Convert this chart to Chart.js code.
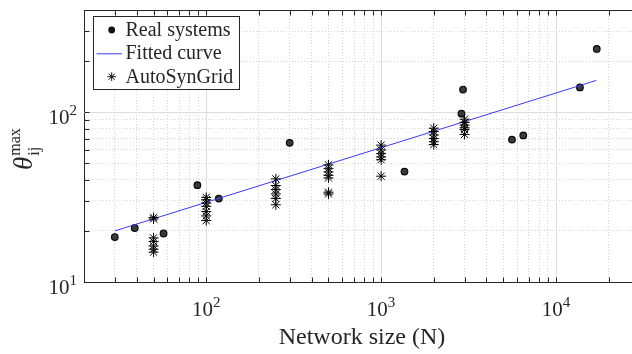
<!DOCTYPE html>
<html><head><meta charset="utf-8">
<script src="https://cdn.jsdelivr.net/npm/chart.js@4/dist/chart.umd.min.js"></script>
<style>html,body{margin:0;padding:0;background:#fff;}#wrap{width:632px;height:354px;}</style>
</head><body><div id="wrap"><canvas id="c" width="632" height="354"></canvas></div>
<script>
// Real systems
const realN     = [30, 39, 57, 89, 118, 300, 1360, 2880, 2940, 5600, 6500, 13700, 17100];
const realTheta = [18.4, 20.8, 19.3, 37.2, 31.0, 66.0, 44.7, 98.0, 136.0, 69.0, 73.0, 140.0, 236.0];
// Fitted curve (straight line on log-log axes, endpoints)
const fitN     = [30, 17000];
const fitTheta = [20.0, 154.0];
// AutoSynGrid
const synN = [50,50,50,50,50,50,50,
              100,100,100,100,100,100,100,
              250,250,250,250,250,250,
              500,500,500,500,500,500,500,
              1000,1000,1000,1000,1000,1000,
              2000,2000,2000,2000,2000,2000,
              3000,3000,3000,3000,3000,3000];
const synTheta = [24.0,23.5,18.2,17.3,16.3,15.6,15.0,
                  31.5,30.5,29.2,27.9,26.0,24.5,23.0,
                  40.5,37.0,35.0,33.0,31.0,28.5,
                  49.0,46.5,44.5,42.5,41.0,33.8,33.0,
                  64.0,60.0,57.0,54.5,52.5,42.0,
                  80.5,77.0,73.5,70.0,67.0,64.5,
                  91.0,87.0,84.0,81.0,79.0,74.0];
// Axes
const xTicks = [20,30,40,50,60,70,80,90,100,200,300,400,500,600,700,800,900,
                1000,2000,3000,4000,5000,6000,7000,8000,9000,10000,20000];
const yTicks = [10,20,30,40,50,60,70,80,90,100,200,300,400];
const xMajor = [100, 1000, 10000];
const yMajor = [10, 100];
const xMin = 20, xMax = 27200, yMin = 10, yMax = 400;
const xTitle = 'Network size (N)';
const legendLabels = ['Real systems', 'Fitted curve', 'AutoSynGrid'];

const FONT = '"Liberation Serif", "Times New Roman", serif';
const AX = '#262626';
const BLUE = '#3a3aff';

function pts(xs, ys){ return xs.map((v,i)=>({x:v, y:ys[i]})); }
const isMajorX = v => xMajor.includes(v);
const isMajorY = v => yMajor.includes(v);

function powLabel(ctx, exp, px, base, align){
  ctx.font = '21px ' + FONT; const w1 = ctx.measureText('10').width;
  ctx.font = '15px ' + FONT; const w2 = ctx.measureText(String(exp)).width;
  const x0 = align === 'center' ? px - (w1 + w2) / 2 : px - (w1 + w2);
  ctx.textAlign = 'left'; ctx.textBaseline = 'alphabetic';
  ctx.font = '21px ' + FONT; ctx.fillText('10', x0, base);
  ctx.font = '15px ' + FONT; ctx.fillText(String(exp), x0 + w1, base - 9);
}

const decor = {
  id: 'decor',
  beforeDatasetsDraw(chart){
    const {ctx, chartArea: a, scales: {x, y}} = chart;
    ctx.save();
    ctx.strokeStyle = '#dedede'; ctx.lineWidth = 1;
    ctx.beginPath();
    xMajor.forEach(v => { const p = Math.round(x.getPixelForValue(v)) + 0.5; ctx.moveTo(p, a.top); ctx.lineTo(p, a.bottom); });
    yMajor.forEach(v => { const p = Math.round(y.getPixelForValue(v)) + 0.5; if (p < a.bottom - 1) { ctx.moveTo(a.left, p); ctx.lineTo(a.right, p); } });
    ctx.stroke();
    ctx.restore();
  },
  afterDraw(chart){
    const {ctx, chartArea: a, scales: {x, y}} = chart;
    ctx.save();
    // top border
    ctx.strokeStyle = AX; ctx.lineWidth = 1;
    ctx.beginPath();
    const top = Math.round(a.top) + 0.5;
    ctx.moveTo(a.left, top); ctx.lineTo(a.right, top);
    // inward tick marks
    const bot = Math.round(a.bottom) + 0.5, lft = Math.round(a.left) + 0.5;
    xTicks.forEach(v => {
      const p = Math.round(x.getPixelForValue(v)) + 0.5;
      ctx.moveTo(p, bot); ctx.lineTo(p, bot - 5);
      ctx.moveTo(p, top); ctx.lineTo(p, top + 5);
    });
    yTicks.forEach(v => {
      const p = Math.round(y.getPixelForValue(v)) + 0.5;
      ctx.moveTo(lft, p); ctx.lineTo(lft + 5, p);
    });
    ctx.stroke();
    // tick labels
    ctx.fillStyle = AX;
    xMajor.forEach(v => powLabel(ctx, Math.round(Math.log10(v)), x.getPixelForValue(v), a.bottom + 34, 'center'));
    yMajor.forEach(v => powLabel(ctx, Math.round(Math.log10(v)), a.left - 7, y.getPixelForValue(v) + 11.5, 'right'));
    // x title
    ctx.font = '24px ' + FONT; ctx.textAlign = 'center'; ctx.textBaseline = 'alphabetic';
    ctx.fillText(xTitle, 362, 344);
    // y title: theta_ij^max rotated
    ctx.save();
    ctx.translate(32, 170); ctx.rotate(-Math.PI / 2);
    ctx.textAlign = 'left';
    ctx.font = 'italic 27px ' + FONT;
    ctx.fillText('\u03B8', 0, 0);
    const tw = ctx.measureText('\u03B8').width;
    ctx.font = '16px ' + FONT;
    ctx.fillText('max', tw + 1, -12);
    ctx.fillText('ij', tw + 1, 7);
    ctx.restore();
    // legend
    ctx.fillStyle = '#fff';
    ctx.fillRect(93.5, 16.5, 146, 73);
    ctx.strokeStyle = AX; ctx.lineWidth = 1;
    ctx.strokeRect(93.5, 16.5, 146, 73);
    ctx.font = '20px ' + FONT; ctx.fillStyle = AX; ctx.textAlign = 'left';
    const rows = [30, 53.3, 76.7];
    legendLabels.forEach((t, i) => ctx.fillText(t, 125.5, rows[i] + 6));
    // legend markers
    ctx.beginPath(); ctx.arc(111.7, rows[0], 3.4, 0, Math.PI * 2);
    ctx.fillStyle = '#111'; ctx.fill();
    ctx.strokeStyle = BLUE; ctx.lineWidth = 1;
    ctx.beginPath(); ctx.moveTo(96.5, rows[1] + 0.5); ctx.lineTo(122, rows[1] + 0.5); ctx.stroke();
    ctx.strokeStyle = '#111'; ctx.lineWidth = 1;
    ctx.beginPath();
    const sx = 111.7, sy = rows[2], r = 4.3, d = r * Math.SQRT1_2;
    ctx.moveTo(sx - r, sy); ctx.lineTo(sx + r, sy);
    ctx.moveTo(sx, sy - r); ctx.lineTo(sx, sy + r);
    ctx.moveTo(sx - d, sy - d); ctx.lineTo(sx + d, sy + d);
    ctx.moveTo(sx - d, sy + d); ctx.lineTo(sx + d, sy - d);
    ctx.stroke();
    ctx.restore();
  }
};

new Chart(document.getElementById('c'), {
  type: 'scatter',
  data: {
    datasets: [
      { label: legendLabels[0], data: pts(realN, realTheta), pointStyle: 'circle', pointRadius: 3.3,
        backgroundColor: '#3a3a3a', borderColor: '#0a0a0a', borderWidth: 1.2, order: 3 },
      { label: legendLabels[1], data: pts(fitN, fitTheta), showLine: true, pointRadius: 0,
        borderColor: BLUE, borderWidth: 1, fill: false, order: 2 },
      { label: legendLabels[2], data: pts(synN, synTheta), pointStyle: 'star', pointRadius: 5,
        borderColor: '#000', backgroundColor: '#000', borderWidth: 1, order: 1 }
    ]
  },
  options: {
    responsive: false, animation: false, devicePixelRatio: 1,
    layout: { autoPadding: false, padding: { left: 84, top: 10, right: 0, bottom: 72 } },
    plugins: { legend: { display: false }, tooltip: { enabled: false } },
    scales: {
      x: {
        type: 'logarithmic', min: xMin, max: xMax,
        afterBuildTicks: s => { s.ticks = xTicks.map(v => ({ value: v })); },
        ticks: { display: false },
        grid: { drawTicks: false, lineWidth: 1,
                color: c => (c.tick && !isMajorX(c.tick.value)) ? '#d4d4d4' : 'rgba(0,0,0,0)' },
        border: { display: true, color: AX, width: 1, dash: [1, 2] },
        title: { display: false }
      },
      y: {
        type: 'logarithmic', min: yMin, max: yMax,
        afterBuildTicks: s => { s.ticks = yTicks.map(v => ({ value: v })); },
        ticks: { display: false },
        grid: { drawTicks: false, lineWidth: 1,
                color: c => (c.tick && !isMajorY(c.tick.value) && c.tick.value !== yMax) ? '#d4d4d4' : 'rgba(0,0,0,0)' },
        border: { display: true, color: AX, width: 1, dash: [1, 2] },
        title: { display: false }
      }
    }
  },
  plugins: [decor]
});
</script>
</body></html>
